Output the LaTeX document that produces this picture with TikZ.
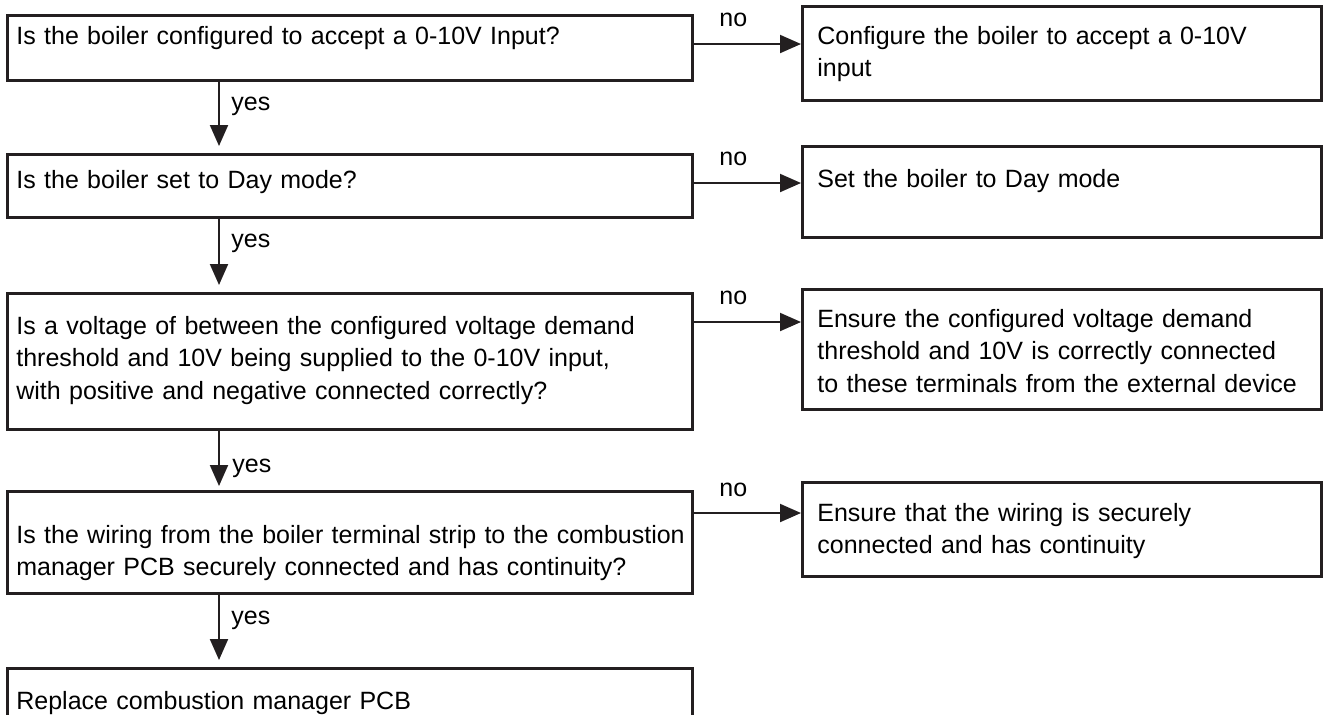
\documentclass[tikz,border=0pt]{standalone}
\usepackage{fontspec}
\setmainfont{Liberation Sans}
\usetikzlibrary{arrows.meta}
\definecolor{linec}{HTML}{231F20}
\tikzset{
  x=0.5pt, y=-0.5pt,
  box/.style={draw=linec, line width=1.25pt, anchor=north west, inner sep=0pt},
  txt/.style={anchor=base west, inner sep=0pt, align=left, text width=400pt,
              font=\fontsize{12.5pt}{16.4pt}\selectfont},
  conn/.style={draw=linec, line width=1pt, -{Triangle[length=10.5pt,width=9pt]}},
  lbl/.style={anchor=base west, inner sep=0pt, font=\fontsize{12.5pt}{15pt}\selectfont}
}
\hyphenpenalty=10000
\begin{document}
\begin{tikzpicture}
\useasboundingbox (0,0) rectangle (1326,714);
% left column boxes
\node[box, minimum width=342.5pt, minimum height=32.5pt] (b1) at (6,14) {};
\node[box, minimum width=342.5pt, minimum height=31.5pt] (b2) at (6,153) {};
\node[box, minimum width=342.5pt, minimum height=68pt] (b3) at (6,292) {};
\node[box, minimum width=342.5pt, minimum height=51pt] (b4) at (6,490) {};
\node[box, minimum width=342.5pt, minimum height=40pt] (b5) at (6,667) {};
% right column boxes
\node[box, minimum width=259.5pt, minimum height=47pt] (r1) at (801,5) {};
\node[box, minimum width=259.5pt, minimum height=45.5pt] (r2) at (801,145) {};
\node[box, minimum width=259.5pt, minimum height=60pt] (r3) at (801,288) {};
\node[box, minimum width=259.5pt, minimum height=47pt] (r4) at (801,481) {};
% texts
\node[txt] (t1) at (16,44) {Is the boiler configured to accept a 0-10V Input?};
\node[txt] (t2) at (16,188) {Is the boiler set to Day mode?};
\node[txt] (t3) at (16,334) {Is a voltage of between the configured voltage demand\\threshold and 10V being supplied to the 0-10V input,\\with positive and negative connected correctly?};
\node[txt] (t4) at (16,543) {Is the wiring from the boiler terminal strip to the combustion\\manager PCB securely connected and has continuity?};
\node[txt] (t5) at (16,709) {Replace combustion manager PCB};
\node[txt] (s1) at (817,44) {Configure the boiler to accept a 0-10V\\input};
\node[txt] (s2) at (817,187) {Set the boiler to Day mode};
\node[txt] (s3) at (817,327) {Ensure the configured voltage demand\\threshold and 10V is correctly connected\\to these terminals from the external device};
\node[txt] (s4) at (817,521) {Ensure that the wiring is securely\\connected and has continuity};
% connectors: no
\coordinate (n1a) at (b1.east |- 0,44);
\coordinate (n2a) at (b2.east |- 0,183);
\coordinate (n3a) at (b3.east |- 0,322);
\coordinate (n4a) at (b4.east |- 0,513);
\draw[conn] (n1a) -- (n1a -| r1.west);
\draw[conn] (n2a) -- (n2a -| r2.west);
\draw[conn] (n3a) -- (n3a -| r3.west);
\draw[conn] (n4a) -- (n4a -| r4.west);
\node[lbl] (no1) at (719,26) {no};
\node[lbl] (no2) at (719,165) {no};
\node[lbl] (no3) at (719,304) {no};
\node[lbl] (no4) at (719,496) {no};
% connectors: yes
\coordinate (y1a) at (219,0 |- b1.south);
\coordinate (y2a) at (219,0 |- b2.south);
\coordinate (y3a) at (219,0 |- b3.south);
\coordinate (y4a) at (219,0 |- b4.south);
\draw[conn] (y1a) -- (219,146);
\draw[conn] (y2a) -- (219,285);
\draw[conn] (y3a) -- (219,486);
\draw[conn] (y4a) -- (219,660);
\node[lbl] (ye1) at (231,110) {yes};
\node[lbl] (ye2) at (231,247) {yes};
\node[lbl] (ye3) at (232,472) {yes};
\node[lbl] (ye4) at (231,624) {yes};
\end{tikzpicture}
\end{document}
